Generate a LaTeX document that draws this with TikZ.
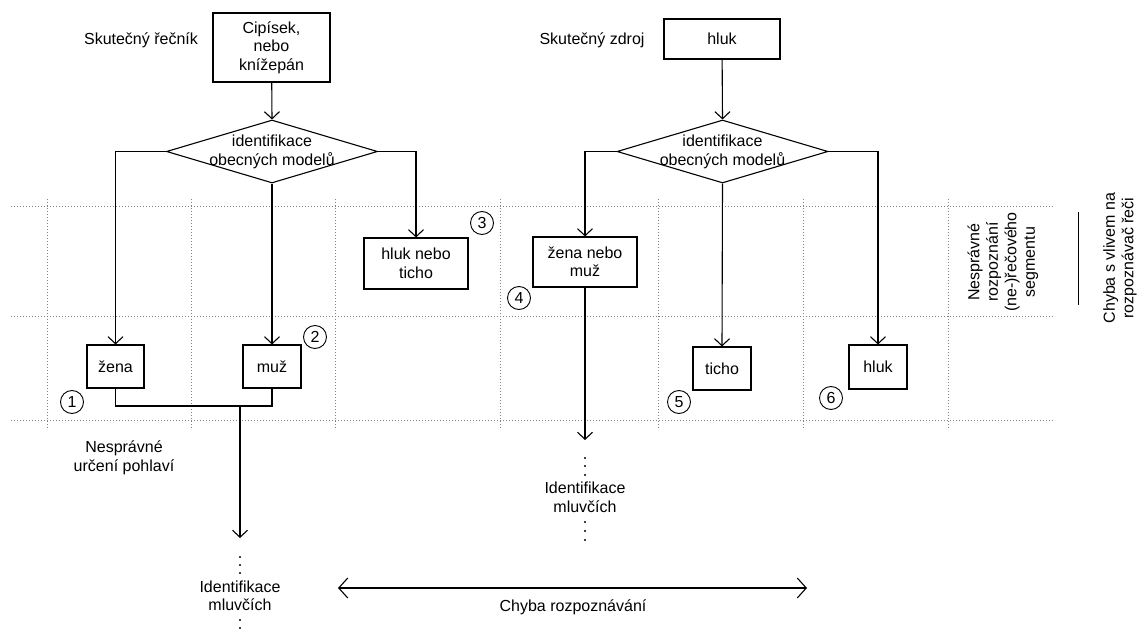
\documentclass[tikz,border=0pt]{standalone}
\usepackage{fontspec}
\setmainfont{Liberation Sans}
\usetikzlibrary{arrows.meta,shapes.geometric}
\tikzset{
  box/.style={draw, line width=1.1pt, inner sep=0pt, align=center},
  diam/.style={draw, diamond, line width=1.1pt, inner sep=0pt, minimum width=211pt, minimum height=63pt},
  txt/.style={inner sep=0pt, align=center},
  arr/.style={line width=1.1pt, -{Straight Barb[length=7pt,width=15pt,line width=1.1pt]}},
  conn/.style={line width=1.1pt},
  darr/.style={line width=1.1pt, {Straight Barb[length=9pt,width=20pt,line width=1.1pt]}-{Straight Barb[length=9pt,width=20pt,line width=1.1pt]}},
  grid/.style={draw=gray, line width=0.9pt, dash pattern=on 1pt off 2pt},
  num/.style={draw, circle, line width=0.9pt, minimum size=23pt, inner sep=0pt},
  dot/.style={fill=black}
}
\begin{document}
\begin{tikzpicture}[x=1pt,y=-1pt, font=\fontsize{16}{18.5}\selectfont]
\useasboundingbox (0,0) rectangle (1146,636);
% grid
\foreach \y in {206,316,420} \draw[grid] (11,\y) -- (1055,\y);
\foreach \x in {47,191,335,500,658,803,948} \draw[grid] (\x,199) -- (\x,430);

% left diagram
\node[txt] (t1) at (141,40) {Skutečný řečník};
\node[box, minimum width=117pt, minimum height=69pt] (b1) at (271.5,47.5) {Cipísek,\\nebo\\knížepán};
\node[diam] (d1) at (272,151.5) {};
\node[txt] (d1t) at (272,152) {identifikace\\obecných modelů};
\node[box, minimum width=57pt, minimum height=43pt] (zena) at (115.5,366.5) {žena};
\node[box, minimum width=58pt, minimum height=43pt] (muz) at (272,366.5) {muž};
\node[box, minimum width=104pt, minimum height=51pt] (hnt) at (416,263.5) {hluk nebo\\ticho};
\draw[arr] (b1) -- (d1.north);
\draw[arr] (d1.west) -| (zena.north);
\draw[arr] (d1.south) -- (muz.north);
\draw[arr] (d1.east) -| (hnt.north);
\coordinate (j1) at (240,406);
\coordinate (e1) at (240,538);
\draw[conn] (zena.south) |- (j1) -| (muz.south);
\draw[arr] (j1) -- (e1);
\foreach \y in {557,565,573,620,628} \fill[dot] (240,\y) circle (1.1pt);
\node[txt] (id1) at (240,596) {Identifikace\\mluvčích};
\node[txt] (nup) at (124,458) {Nesprávné\\určení pohlaví};

% right diagram
\node[txt] (t2) at (592,40) {Skutečný zdroj};
\node[box, minimum width=116pt, minimum height=40pt] (b2) at (722,39) {hluk};
\node[diam] (d2) at (722.5,151.5) {};
\node[txt] (d2t) at (722.5,152) {identifikace\\obecných modelů};
\node[box, minimum width=104pt, minimum height=50pt] (znm) at (585,262) {žena nebo\\muž};
\node[box, minimum width=58pt, minimum height=43pt] (ticho) at (722,368.5) {ticho};
\node[box, minimum width=58pt, minimum height=44pt] (hluk2) at (878,367) {hluk};
\draw[arr] (b2) -- (d2.north);
\draw[arr] (d2.west) -| (znm.north);
\draw[arr] (d2.south) -- (ticho.north);
\draw[arr] (d2.east) -| (hluk2.north);
\coordinate (e2) at (585,440);
\draw[arr] (znm.south) -- (e2);
\foreach \y in {458,466,475,522,531,540} \fill[dot] (585,\y) circle (1.1pt);
\node[txt] (id2) at (585,497.5) {Identifikace\\mluvčích};

% numbers
\node[num] (n1) at (72,402) {1};
\node[num] (n2) at (315,337) {2};
\node[num] (n3) at (482,223) {3};
\node[num] (n4) at (519,298) {4};
\node[num] (n5) at (679,402) {5};
\node[num] (n6) at (831,398) {6};

% bottom arrow
\coordinate (la) at (338,588);
\coordinate (ra) at (807,588);
\draw[darr] (la) -- (ra);
\node[txt] (cr) at (573,607) {Chyba rozpoznávání};

% right side labels
\node[txt, rotate=90] (nr) at (1003,262) {Nesprávné\\rozpoznání\\(ne-)řečového\\segmentu};
\coordinate (s1) at (1078,212);
\coordinate (s2) at (1078,305);
\draw[line width=0.9pt] (s1) -- (s2);
\node[txt, rotate=90] (cv) at (1120,258) {Chyba s vlivem na\\rozpoznávač řeči};
\end{tikzpicture}
\end{document}
